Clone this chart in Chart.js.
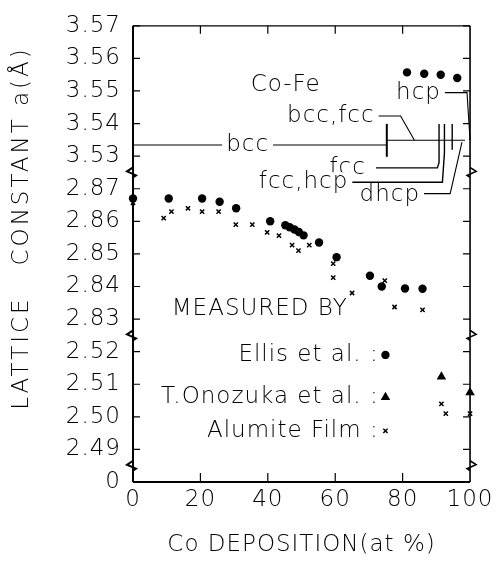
<!DOCTYPE html>
<html>
<head>
<meta charset="utf-8">
<script src="https://cdn.jsdelivr.net/npm/chart.js@4/dist/chart.umd.min.js"></script>
<style>
  html, body { margin: 0; padding: 0; background: #fff; }
  canvas { display: block; }
</style>
</head>
<body>
<canvas id="chart" width="496" height="565"></canvas>
<script>
// Tick labels of the broken y axis, one per axis step from the bottom
const yTickLabels = ["0", "2.49", "2.50", "2.51", "2.52", "2.83", "2.84", "2.85", "2.86", "2.87", "3.53", "3.54", "3.55", "3.56", "3.57"];
const xTicks = [0, 20, 40, 60, 80, 100];

// Ellis et al. (filled circles)
const ellisX = [0, 10.6, 20.5, 25.7, 30.6, 40.7, 45.2, 46.5, 47.9, 49.2, 50.6, 55.2, 60.4, 70.3, 73.8, 80.7, 85.9, 81.3, 86.4, 91.3, 96.2];
const ellisA = [2.867, 2.867, 2.867, 2.866, 2.864, 2.860, 2.8588, 2.8582, 2.8575, 2.8567, 2.8557, 2.8535, 2.849, 2.8433, 2.840, 2.8394, 2.8393, 3.5557, 3.5553, 3.5550, 3.5540];
// T.Onozuka et al. (triangles)
const onozukaX = [91.5, 100];
const onozukaA = [2.5123, 2.5075];
// Alumite film (crosses)
const alumiteX = [0, 9.1, 11.4, 16.3, 20.5, 25.4, 30.5, 35.4, 39.8, 43.3, 47.2, 49.1, 52.3, 59.4, 59.4, 65.0, 74.7, 77.6, 85.9, 91.5, 92.8, 100];
const alumiteA = [2.8657, 2.861, 2.863, 2.864, 2.863, 2.863, 2.859, 2.859, 2.8566, 2.8556, 2.8527, 2.851, 2.8527, 2.847, 2.8427, 2.838, 2.8418, 2.8337, 2.8328, 2.504, 2.501, 2.501];

// axis segments: [first label value, axis step of that label]
const ySegments = [[2.49, 1], [2.83, 5], [3.53, 10]];
const breaksAt = [0.5, 4.5, 9.5];

const FONT = "'DejaVu Sans ExtraLight', 'DejaVu Sans', sans-serif";
const font = { family: FONT, size: 23, weight: "200" };

// lattice constant -> position on the broken axis
function toAxis(a) {
  if (a < 1) return 0;
  let seg = ySegments[0];
  ySegments.forEach(s => { if (a >= s[0] - 0.2) seg = s; });
  return seg[1] + (a - seg[0]) * 100;
}
const pts = (xs, as) => xs.map((x, i) => ({ x, y: toAxis(as[i]) }));

const frame = {
  id: "frame",
  beforeDraw(chart) {
    chart.ctx.letterSpacing = "1px";
  },
  afterDatasetsDraw(chart) {
    const { ctx, chartArea: a, scales: { x, y } } = chart;
    const X = v => x.getPixelForValue(v), Y = v => y.getPixelForValue(v);
    ctx.save();
    ctx.strokeStyle = "#000";
    ctx.fillStyle = "#000";
    ctx.lineCap = "butt";

    const line = (p, w) => {
      ctx.lineWidth = w || 1.3;
      ctx.beginPath();
      p.forEach((q, i) => i ? ctx.lineTo(X(q[0]), Y(q[1])) : ctx.moveTo(X(q[0]), Y(q[1])));
      ctx.stroke();
    };

    // left + right axis with break marks
    [[a.left, -1], [a.right, 1]].forEach(([px, dir]) => {
      ctx.lineWidth = dir < 0 ? 2 : 1.6;
      ctx.beginPath();
      ctx.moveTo(px, a.top);
      breaksAt.forEach(b => {
        const py = Y(b);
        ctx.lineTo(px, py - 5);
        ctx.lineTo(px + dir * 6, py - 1);
        ctx.lineTo(px - dir * 3, py + 3);
        ctx.lineTo(px, py + 5);
      });
      ctx.lineTo(px, a.bottom);
      ctx.stroke();
    });
    // top + bottom axis
    ctx.lineWidth = 1.2;
    ctx.beginPath();
    ctx.moveTo(a.left, a.top); ctx.lineTo(a.right, a.top);
    ctx.stroke();
    ctx.lineWidth = 1.8;
    ctx.beginPath();
    ctx.moveTo(a.left, a.bottom); ctx.lineTo(a.right, a.bottom);
    ctx.stroke();

    // inward ticks
    ctx.lineWidth = 1.2;
    ctx.beginPath();
    y.ticks.forEach(t => {
      if (t.value === 0) return;
      const py = Y(t.value);
      ctx.moveTo(a.left, py); ctx.lineTo(a.left + 7, py);
      ctx.moveTo(a.right, py); ctx.lineTo(a.right - 7, py);
    });
    x.ticks.forEach(t => {
      if (t.value === 0 || t.value === 100) return;
      const px = X(t.value);
      ctx.moveTo(px, a.top); ctx.lineTo(px, a.top + 8);
      ctx.moveTo(px, a.bottom); ctx.lineTo(px, a.bottom - 9);
    });
    ctx.stroke();

    // phase bar of the Co-Fe diagram
    line([[0, 10.34], [75.3, 10.34]], 1.1);
    line([[75.3, 10.49], [98.5, 10.49]], 1.1);
    line([[75.3, 9.98], [75.3, 10.99]], 2);
    line([[90.8, 10.99], [90.8, 9.8], [90.3, 9.64], [72.1, 9.64]], 1.4);
    line([[92.4, 10.99], [92.4, 10.1], [91.8, 9.2], [64.9, 9.2]], 1.4);
    line([[94.7, 10.99], [94.7, 10.2]], 1.4);
    line([[97.6, 10.43], [94.1, 8.85], [84.5, 8.85]], 1.1);
    line([[71.8, 11.23], [79.4, 11.23], [83.5, 10.49]], 1.1);
    line([[91.0, 11.95], [99.1, 11.95], [100, 10.49]], 1.1);

    ctx.font = `200 23px ${FONT}`;
    ctx.letterSpacing = "1px";
    ctx.textBaseline = "middle";
    ctx.textAlign = "center";
    const label = (txt, xv, yv, bg) => {
      if (bg) {
        const w = ctx.measureText(txt).width;
        ctx.fillStyle = "#fff";
        ctx.fillRect(X(xv) - w / 2 - 4, Y(yv) - 10, w + 8, 20);
        ctx.fillStyle = "#000";
      }
      ctx.fillText(txt, X(xv), Y(yv));
    };
    label("Co-Fe", 45.3, 12.18);
    label("hcp", 84.7, 11.95, true);
    label("bcc,fcc", 58.7, 11.23, true);
    label("bcc", 34.0, 10.34, true);
    label("fcc", 63.7, 9.64, true);
    label("fcc,hcp", 50.6, 9.2, true);
    label("dhcp", 76.2, 8.82, true);

    // legend
    label("MEASURED BY", 37.6, 5.32);
    ctx.textAlign = "right";
    const keys = [
      ["Ellis et al. :", 3.9, { pointStyle: "circle", radius: 4.2, borderWidth: 0 }],
      ["T.Onozuka et al. :", 2.6, { pointStyle: "triangle", radius: 5.5, borderWidth: 0 }],
      ["Alumite Film :", 1.57, { pointStyle: "crossRot", radius: 3, borderWidth: 1.5 }]
    ];
    keys.forEach(([txt, yv, st]) => {
      ctx.fillText(txt, X(72.9), Y(yv));
      ctx.lineWidth = st.borderWidth;
      Chart.helpers.drawPoint(ctx, { ...st, rotation: 0 }, X(74.9), Y(yv));
    });

    // axis titles
    ctx.textAlign = "center";
    ctx.fillText("Co DEPOSITION(at %)", X(50), 545);
    ctx.letterSpacing = "3px";
    ctx.translate(22, 228);
    ctx.rotate(-Math.PI / 2);
    ctx.fillText("LATTICE   CONSTANT a(Å)", 0, 0);
    ctx.restore();
  }
};

new Chart(document.getElementById("chart"), {
  type: "scatter",
  data: {
    datasets: [
      { label: "Ellis et al.", data: pts(ellisX, ellisA), pointStyle: "circle", pointRadius: 4.2,
        backgroundColor: "#000", borderColor: "#000", borderWidth: 0, clip: false },
      { label: "T.Onozuka et al.", data: pts(onozukaX, onozukaA), pointStyle: "triangle", pointRadius: 5.5,
        backgroundColor: "#000", borderColor: "#000", borderWidth: 0, clip: false },
      { label: "Alumite Film", data: pts(alumiteX, alumiteA), pointStyle: "crossRot", pointRadius: 3,
        backgroundColor: "#000", borderColor: "#000", borderWidth: 1.5, clip: false }
    ]
  },
  options: {
    responsive: false,
    animation: false,
    devicePixelRatio: 1,
    layout: { padding: { top: 12, right: 23, left: 0, bottom: 0 } },
    plugins: { legend: { display: false }, tooltip: { enabled: false } },
    scales: {
      x: {
        type: "linear", min: 0, max: 100,
        afterBuildTicks: s => { s.ticks = xTicks.map(v => ({ value: v })); },
        ticks: { color: "#000", font, padding: 4, maxRotation: 0 },
        grid: { display: false, drawTicks: false },
        border: { display: false },
        afterFit: s => { s.height = 83; }
      },
      y: {
        type: "linear", min: 0, max: yTickLabels.length - 1,
        afterBuildTicks: s => { s.ticks = yTickLabels.map((_, i) => ({ value: i })); },
        ticks: { color: "#000", font, padding: 12, callback: v => yTickLabels[v] },
        grid: { display: false, drawTicks: false },
        border: { display: false },
        afterFit: s => { s.width = 133; }
      }
    }
  },
  plugins: [frame]
});
</script>
</body>
</html>
